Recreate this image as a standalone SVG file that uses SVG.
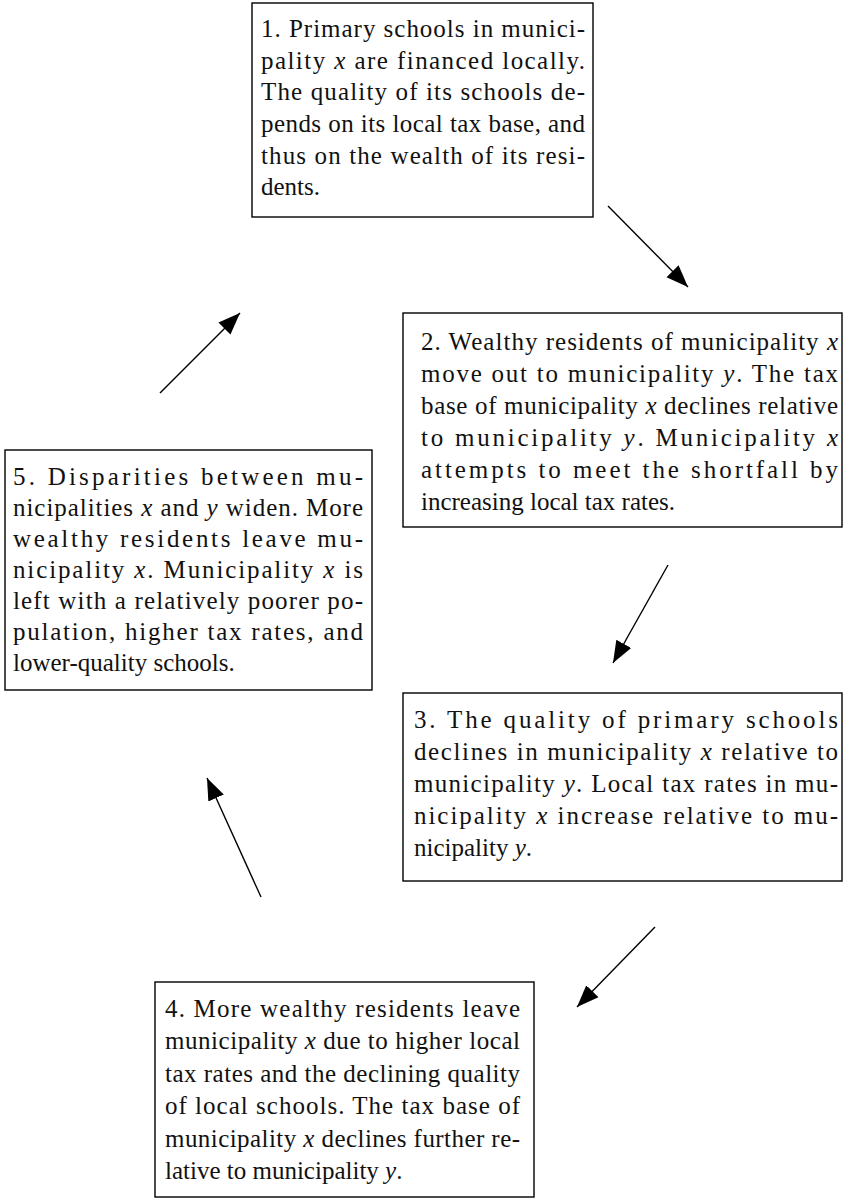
<svg xmlns="http://www.w3.org/2000/svg" width="843" height="1199" viewBox="0 0 843 1199">
<style>
.box{fill:#fff;stroke:#000;stroke-width:1.4}
.t{font-family:"Liberation Serif","Times New Roman",serif;font-size:25px;fill:#111}
.i{font-style:italic}
.c{stroke:#000;stroke-width:1.4;fill:none}
</style>
<defs>
<marker id="ah" markerUnits="userSpaceOnUse" markerWidth="24" markerHeight="20" viewBox="0 0 24 20" refX="22" refY="10" orient="auto">
<path d="M0,1.5 L22,10 L0,18.5 Z" fill="#000"/>
</marker>
</defs>
<rect width="843" height="1199" fill="#fff"/>
<g id="connectors">
<line class="c" x1="608" y1="206" x2="688" y2="287" marker-end="url(#ah)"/>
<line class="c" x1="668" y1="565" x2="613" y2="663" marker-end="url(#ah)"/>
<line class="c" x1="655" y1="927" x2="577" y2="1007" marker-end="url(#ah)"/>
<line class="c" x1="261" y1="897" x2="207" y2="778" marker-end="url(#ah)"/>
<line class="c" x1="160" y1="393" x2="240" y2="313" marker-end="url(#ah)"/>
</g>
<g id="node1">
<rect class="box" x="252" y="3" width="341" height="214"/>
<text class="t" x="261" y="37" textLength="324" lengthAdjust="spacing">1. Primary schools in munici-</text>
<text class="t" x="261" y="69" textLength="324" lengthAdjust="spacing">pality <tspan class="i">x</tspan> are financed locally.</text>
<text class="t" x="261" y="100" textLength="324" lengthAdjust="spacing">The quality of its schools de-</text>
<text class="t" x="261" y="132" textLength="324" lengthAdjust="spacing">pends on its local tax base, and</text>
<text class="t" x="261" y="164" textLength="324" lengthAdjust="spacing">thus on the wealth of its resi-</text>
<text class="t" x="261" y="195">dents.</text>
</g>
<g id="node2">
<rect class="box" x="403" y="313" width="439" height="214"/>
<text class="t" x="421" y="350" textLength="417" lengthAdjust="spacing">2. Wealthy residents of municipality <tspan class="i">x</tspan></text>
<text class="t" x="421" y="382" textLength="417" lengthAdjust="spacing">move out to municipality <tspan class="i">y</tspan>. The tax</text>
<text class="t" x="421" y="414" textLength="417" lengthAdjust="spacing">base of municipality <tspan class="i">x</tspan> declines relative</text>
<text class="t" x="421" y="446" textLength="417" lengthAdjust="spacing">to municipality <tspan class="i">y</tspan>. Municipality <tspan class="i">x</tspan></text>
<text class="t" x="421" y="478" textLength="417" lengthAdjust="spacing">attempts to meet the shortfall by</text>
<text class="t" x="421" y="510">increasing local tax rates.</text>
</g>
<g id="node3">
<rect class="box" x="403" y="693" width="439" height="188"/>
<text class="t" x="414" y="728" textLength="424" lengthAdjust="spacing">3. The quality of primary schools</text>
<text class="t" x="414" y="760" textLength="424" lengthAdjust="spacing">declines in municipality <tspan class="i">x</tspan> relative to</text>
<text class="t" x="414" y="792" textLength="424" lengthAdjust="spacing">municipality <tspan class="i">y</tspan>. Local tax rates in mu-</text>
<text class="t" x="414" y="824" textLength="424" lengthAdjust="spacing">nicipality <tspan class="i">x</tspan> increase relative to mu-</text>
<text class="t" x="414" y="856">nicipality <tspan class="i">y</tspan>.</text>
</g>
<g id="node4">
<rect class="box" x="155" y="982" width="379" height="215"/>
<text class="t" x="165" y="1017" textLength="355" lengthAdjust="spacing">4. More wealthy residents leave</text>
<text class="t" x="165" y="1049" textLength="355" lengthAdjust="spacing">municipality <tspan class="i">x</tspan> due to higher local</text>
<text class="t" x="165" y="1082" textLength="355" lengthAdjust="spacing">tax rates and the declining quality</text>
<text class="t" x="165" y="1114" textLength="355" lengthAdjust="spacing">of local schools. The tax base of</text>
<text class="t" x="165" y="1147" textLength="355" lengthAdjust="spacing">municipality <tspan class="i">x</tspan> declines further re-</text>
<text class="t" x="165" y="1179">lative to municipality <tspan class="i">y</tspan>.</text>
</g>
<g id="node5">
<rect class="box" x="5" y="450" width="367" height="240"/>
<text class="t" x="13" y="485" textLength="350" lengthAdjust="spacing">5. Disparities between mu-</text>
<text class="t" x="13" y="516" textLength="350" lengthAdjust="spacing">nicipalities <tspan class="i">x</tspan> and <tspan class="i">y</tspan> widen. More</text>
<text class="t" x="13" y="547" textLength="350" lengthAdjust="spacing">wealthy residents leave mu-</text>
<text class="t" x="13" y="578" textLength="350" lengthAdjust="spacing">nicipality <tspan class="i">x</tspan>. Municipality <tspan class="i">x</tspan> is</text>
<text class="t" x="13" y="609" textLength="350" lengthAdjust="spacing">left with a relatively poorer po-</text>
<text class="t" x="13" y="640" textLength="350" lengthAdjust="spacing">pulation, higher tax rates, and</text>
<text class="t" x="13" y="671">lower-quality schools.</text>
</g>
</svg>
